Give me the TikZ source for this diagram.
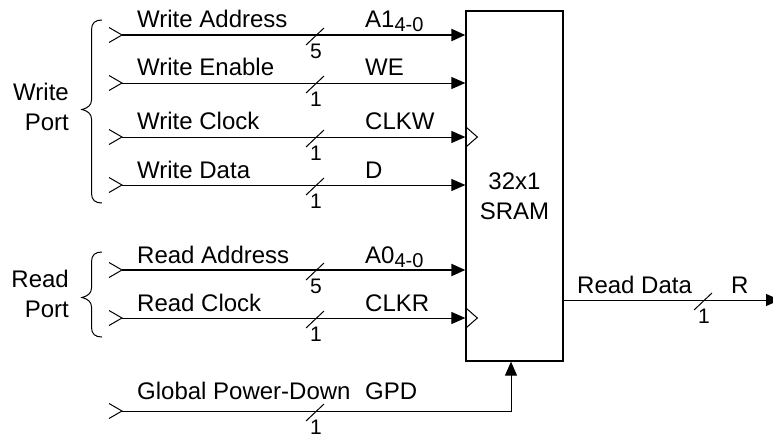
\documentclass[tikz,border=0pt]{standalone}
\usepackage{fontspec}
\setmainfont{Liberation Sans}
\usetikzlibrary{arrows.meta}
\tikzset{
  lbl/.style={inner sep=0pt,anchor=base west,font=\fontsize{24}{28}\selectfont},
  num/.style={inner sep=0pt,anchor=base,font=\fontsize{21}{25}\selectfont},
  lblr/.style={inner sep=0pt,anchor=base east,font=\fontsize{24}{28}\selectfont},
  lblc/.style={inner sep=0pt,anchor=base,font=\fontsize{24}{28}\selectfont},
  wire/.style={line width=1pt,-{Triangle[length=14pt,width=12pt]}},
  bus/.style={line width=2.2pt,-{Triangle[length=14pt,width=12pt]}},
  thin line/.style={line width=1pt},
  sram/.style={draw,line width=1.3pt,minimum width=97pt,minimum height=350pt,inner sep=0pt}
}
\newcommand{\chev}[1]{\draw[thin line] ([shift={(-13pt,-7.5pt)}]#1) -- (#1) -- ([shift={(-13pt,7.5pt)}]#1);}
\newcommand{\slashat}[2]{\draw[thin line] ([shift={(-9pt,-10pt)}]#1) -- ([shift={(9pt,7pt)}]#1);
  \node[num] at ([shift={(1pt,-23.5pt)}]#1) {#2};}
\begin{document}
\begin{tikzpicture}[x=1pt,y=-1pt]
\useasboundingbox (0,0) rectangle (773,434);
\node[sram] (box) at (514.5,186) {};
\node[lblc] (t32) at (514.5,189) {32x1};
\node[lblc] (tsram) at (514.5,219) {SRAM};
% rows
\coordinate (a) at (122,35);
\coordinate (b) at (122,83);
\coordinate (c) at (122,137);
\coordinate (d) at (122,185);
\coordinate (e) at (122,270);
\coordinate (f) at (122,318);
\coordinate (g) at (122,411);
\coordinate (gb) at (511,411);
\coordinate (o) at (780,300);
\draw[bus] (a) -- (a -| box.west);
\draw[wire] (b) -- (b -| box.west);
\draw[wire] (c) -- (c -| box.west);
\draw[wire] (d) -- (d -| box.west);
\draw[bus] (e) -- (e -| box.west);
\draw[wire] (f) -- (f -| box.west);
\draw[wire] (g) -- (gb) -- (gb |- box.south);
\draw[wire] (o -| box.east) -- (o);
\foreach \p in {a,b,c,d,e,f,g} {\chev{\p}}
% slashes
\coordinate (sa) at (315,35);
\coordinate (sb) at (315,83);
\coordinate (sc) at (315,137);
\coordinate (sd) at (315,185);
\coordinate (se) at (315,270);
\coordinate (sf) at (315,318);
\coordinate (sg) at (315,411);
\coordinate (so) at (703,300);
\slashat{sa}{5}\slashat{sb}{1}\slashat{sc}{1}\slashat{sd}{1}
\slashat{se}{5}\slashat{sf}{1}\slashat{sg}{1}\slashat{so}{1}
% clock triangles
\draw[thin line] ([yshift=-10.5pt]box.west |- c) -- ([xshift=12pt]box.west |- c) -- ([yshift=10.5pt]box.west |- c);
\draw[thin line] ([yshift=-10.5pt]box.west |- f) -- ([xshift=12pt]box.west |- f) -- ([yshift=10.5pt]box.west |- f);
% labels
\node[lbl] (la) at (137,27) {Write Address};
\node[lbl] (lb) at (137,75) {Write Enable};
\node[lbl] (lc) at (137,129) {Write Clock};
\node[lbl] (ld) at (137,178) {Write Data};
\node[lbl] (le) at (137,263) {Read Address};
\node[lbl] (lf) at (137,311) {Read Clock};
\node[lbl] (lg) at (137,399) {Global Power-Down};
\node[lbl] (ra) at (365,27) {A1\raisebox{-4.5pt}{\fontsize{20}{24}\selectfont 4-0}};
\node[lbl] (rb) at (365,75) {WE};
\node[lbl] (rc) at (365,129) {CLKW};
\node[lbl] (rd) at (365,178) {D};
\node[lbl] (re) at (365,263) {A0\raisebox{-4.5pt}{\fontsize{20}{24}\selectfont 4-0}};
\node[lbl] (rf) at (365,311) {CLKR};
\node[lbl] (rg) at (365,399) {GPD};
\node[lbl] (rd1) at (577,293) {Read Data};
\node[lbl] (rr) at (731,293) {R};
\node[lblr] (wp1) at (69,100) {Write};
\node[lblr] (wp2) at (69,130) {Port};
\node[lblr] (rp1) at (69,287) {Read};
\node[lblr] (rp2) at (69,317) {Port};
% braces
\draw[thin line] (102,20) .. controls (95,20) and (91.5,23) .. (91.5,30) -- (91.5,100) .. controls (91.5,105) and (88,108) .. (82,109.5) .. controls (88,111) and (91.5,114) .. (91.5,119) -- (91.5,193) .. controls (91.5,200) and (95,203) .. (102,203);
\draw[thin line] (102,252) .. controls (95,252) and (91.5,255) .. (91.5,262) -- (91.5,288) .. controls (91.5,293) and (88,296) .. (82,297.5) .. controls (88,299) and (91.5,302) .. (91.5,307) -- (91.5,327) .. controls (91.5,334) and (95,337) .. (102,337);
\end{tikzpicture}
\end{document}
